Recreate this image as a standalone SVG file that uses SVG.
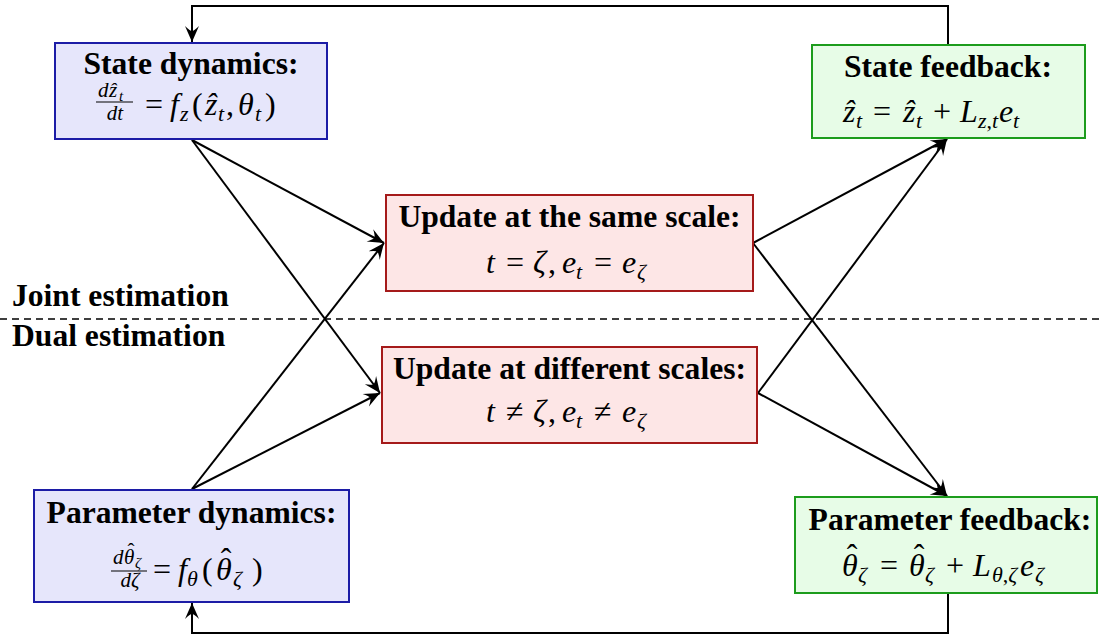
<svg xmlns="http://www.w3.org/2000/svg" width="1099" height="637" viewBox="0 0 1099 637">
<style>
.t{font-family:"Liberation Serif","Times New Roman",serif;font-weight:bold;font-size:31.6px;fill:#000}
.m{font-family:"Liberation Serif","Times New Roman",serif;font-size:32px;fill:#000}
.f{font-family:"Liberation Serif","Times New Roman",serif;font-size:21px;fill:#000}
.i{font-style:italic}
.n{font-style:normal}
.s{font-size:22px}
.fs{font-size:15px}
.blue{fill:#e6e6fb;stroke:#1c1ca6;stroke-width:2}
.red{fill:#fde6e6;stroke:#a51a1a;stroke-width:2}
.green{fill:#e7fce7;stroke:#1c9c1c;stroke-width:2}
.c{fill:none;stroke:#000;stroke-width:2}
.bar{stroke:#000;stroke-width:1.2}
</style>
<defs>
<marker id="arr" viewBox="-17 -8 18 16" markerWidth="18" markerHeight="16" refX="0" refY="0" orient="auto" markerUnits="userSpaceOnUse">
<path d="M0,0 L-16,-7 Q-11,-2 -11,0 Q-11,2 -16,7 Z" fill="#000"/>
</marker>
</defs>
<rect width="1099" height="637" fill="#fff"/>
<g id="divider">
<line x1="0" y1="319" x2="1099" y2="319" stroke="#000" stroke-width="1.5" stroke-dasharray="7,5"/>
<text class="t" x="12" y="306">Joint estimation</text>
<text class="t" x="12" y="346">Dual estimation</text>
</g>
<g id="connectors">
<path class="c" d="M948,45 V6 H192 V42" marker-end="url(#arr)"/>
<path class="c" d="M948,593 V633 H192 V603" marker-end="url(#arr)"/>
<path class="c" d="M192,140 L384,243" marker-end="url(#arr)"/>
<path class="c" d="M192,140 L380,393" marker-end="url(#arr)"/>
<path class="c" d="M192,489 L384,243" marker-end="url(#arr)"/>
<path class="c" d="M192,489 L380,393" marker-end="url(#arr)"/>
<path class="c" d="M753,243 L947,139" marker-end="url(#arr)"/>
<path class="c" d="M753,243 L947,496" marker-end="url(#arr)"/>
<path class="c" d="M758,393 L947,139" marker-end="url(#arr)"/>
<path class="c" d="M758,393 L947,496" marker-end="url(#arr)"/>
</g>
<g id="state-dynamics">
<rect class="blue" x="55" y="43" width="272" height="96"/>
<text class="t" x="191" y="74" text-anchor="middle">State dynamics:</text>
<text class="f i" y="97"><tspan x="98">d</tspan><tspan x="109">ẑ</tspan><tspan class="fs" x="119" y="101">t</tspan></text>
<line class="bar" x1="96" y1="102" x2="133" y2="102"/>
<text class="f i" x="115" y="120" text-anchor="middle">dt</text>
<text class="m" y="115"><tspan x="145">=</tspan><tspan class="i" x="170">f</tspan><tspan class="i s" x="180" y="121">z</tspan><tspan x="192" y="115">(</tspan><tspan class="i" x="205">ẑ</tspan><tspan class="i s" x="218" y="121">t</tspan><tspan x="226" y="115">,</tspan><tspan class="i" x="238">θ</tspan><tspan class="i s" x="255" y="121">t</tspan><tspan x="265" y="115">)</tspan></text>
</g>
<g id="state-feedback">
<rect class="green" x="812" y="45" width="273" height="93"/>
<text class="t" x="948" y="77" text-anchor="middle">State feedback:</text>
<text class="m" y="122"><tspan class="i" x="843">ẑ</tspan><tspan class="i s" x="856" y="128">t</tspan><tspan x="873" y="122">=</tspan><tspan class="i" x="903">ẑ</tspan><tspan class="i s" x="916" y="128">t</tspan><tspan x="933" y="122">+</tspan><tspan class="i" x="960">L</tspan><tspan class="s" x="978" y="128"><tspan class="i">z</tspan>,<tspan class="i">t</tspan></tspan><tspan class="i" x="999" y="122">e</tspan><tspan class="i s" x="1013" y="128">t</tspan></text>
</g>
<g id="update-same">
<rect class="red" x="386" y="195" width="367" height="96"/>
<text class="t" x="569.5" y="227" text-anchor="middle">Update at the same scale:</text>
<text class="m" y="273"><tspan class="i" x="486">t</tspan><tspan x="506">=</tspan><tspan class="i" x="533">ζ</tspan><tspan x="548">,</tspan><tspan class="i" x="562">e</tspan><tspan class="i s" x="576" y="279">t</tspan><tspan x="594" y="273">=</tspan><tspan class="i" x="622">e</tspan><tspan class="i s" x="637" y="279">ζ</tspan></text>
</g>
<g id="update-different">
<rect class="red" x="382" y="347" width="375" height="96"/>
<text class="t" x="569.5" y="379" text-anchor="middle">Update at different scales:</text>
<text class="m" y="422"><tspan class="i" x="486">t</tspan><tspan x="506">≠</tspan><tspan class="i" x="533">ζ</tspan><tspan x="548">,</tspan><tspan class="i" x="562">e</tspan><tspan class="i s" x="576" y="428">t</tspan><tspan x="594" y="422">≠</tspan><tspan class="i" x="622">e</tspan><tspan class="i s" x="637" y="428">ζ</tspan></text>
</g>
<g id="parameter-dynamics">
<rect class="blue" x="34" y="490" width="315" height="112"/>
<text class="t" x="191.5" y="523" text-anchor="middle">Parameter dynamics:</text>
<text class="f i" y="564"><tspan x="113">d</tspan><tspan x="124">θ</tspan><tspan class="fs" x="135" y="568">ζ</tspan><tspan class="n" x="131" y="558" text-anchor="middle">ˆ</tspan></text>
<line class="bar" x1="111" y1="571" x2="147" y2="571"/>
<text class="f i" x="130" y="587" text-anchor="middle">dζ</text>
<text class="m" y="580"><tspan x="153">=</tspan><tspan class="i" x="178">f</tspan><tspan class="i s" x="187" y="586">θ</tspan><tspan x="202" y="580">(</tspan><tspan class="i" x="216">θ</tspan><tspan class="i s" x="233" y="586">ζ</tspan><tspan x="252" y="580">)</tspan><tspan x="226" y="570" text-anchor="middle">ˆ</tspan></text>
</g>
<g id="parameter-feedback">
<rect class="green" x="795" y="497" width="302" height="96"/>
<text class="t" x="950" y="530" text-anchor="middle">Parameter feedback:</text>
<text class="m" y="576"><tspan class="i" x="842">θ</tspan><tspan class="i s" x="858" y="582">ζ</tspan><tspan x="880" y="576">=</tspan><tspan class="i" x="909">θ</tspan><tspan class="i s" x="925" y="582">ζ</tspan><tspan x="946" y="576">+</tspan><tspan class="i" x="973">L</tspan><tspan class="s" x="992" y="582"><tspan class="i">θ</tspan>,<tspan class="i">ζ</tspan></tspan><tspan class="i" x="1020" y="576">e</tspan><tspan class="i s" x="1035" y="582">ζ</tspan><tspan x="852" y="566" text-anchor="middle">ˆ</tspan><tspan x="919" y="566" text-anchor="middle">ˆ</tspan></text>
</g>
</svg>
